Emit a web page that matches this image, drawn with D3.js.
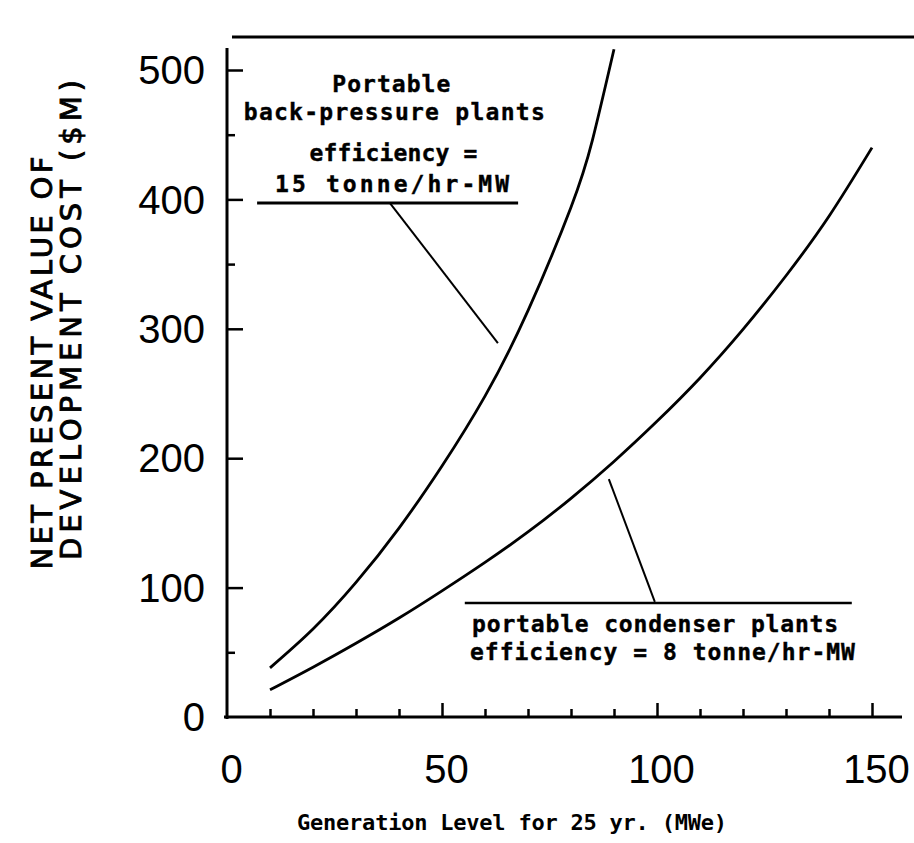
<!DOCTYPE html>
<html><head><meta charset="utf-8">
<script src="https://cdn.jsdelivr.net/npm/d3@7"></script>
<style>body{margin:0;background:#fff}</style>
</head><body><svg id="c" width="914" height="843"></svg>
<script>
// ---- data ----
const backLevel = [10,20,30,40,50,60,70,80,85,90];
const backPressureCost = [38,68,104,146,194,248,314,394,446,516];
const condLevel = [10,20,30,40,50,60,70,80,90,100,110,120,130,140,150];
const condenserCost = [21,38.5,57,76.5,97.5,119.5,143,169,197.5,228.5,262,299.5,341,387,440];
const xMajorTicks = [0,50,100,150];
const xMinorTicks = [10,20,30,40,60,70,80,90,110,120,130,140];
const yMajorTicks = [0,100,200,300,400,500];
const yMinorTicks = [50,350,450];
const backLabels = ["Portable","back-pressure plants","efficiency =","15 tonne/hr-MW"];
const condLabels = ["portable condenser plants","efficiency = 8 tonne/hr-MW"];
const xTitle = "Generation Level for 25 yr. (MWe)";
const yTitle = ["NET PRESENT VALUE OF","DEVELOPMENT COST ($M)"];

const svg = d3.select("#c");
const x = d3.scaleLinear().domain([0,150]).range([227,872]);
const y = d3.scaleLinear().domain([0,500]).range([717,70]);
const ink = "#000";

// top rule
svg.append("line").attr("x1",232).attr("x2",914).attr("y1",37).attr("y2",37)
  .attr("stroke",ink).attr("stroke-width",3);

// axis lines
svg.append("line").attr("x1",x(0)).attr("x2",x(0)).attr("y1",48).attr("y2",y(0)+2)
  .attr("stroke",ink).attr("stroke-width",3);
svg.append("line").attr("x1",x(0)-3).attr("x2",902).attr("y1",y(0)).attr("y2",y(0))
  .attr("stroke",ink).attr("stroke-width",3);

function styleAxis(g){
  g.select(".domain").remove();
  g.selectAll(".tick line").attr("stroke",ink).attr("stroke-width",2.5);
  g.selectAll(".tick text").attr("fill",ink)
    .attr("font-family","'Liberation Sans', Arial, sans-serif").attr("font-size",40);
}
// x axis
svg.append("g").attr("transform",`translate(0,${y(0)})`)
  .call(d3.axisBottom(x).tickValues(xMinorTicks).tickSize(-8).tickFormat(""))
  .call(styleAxis);
const gx = svg.append("g").attr("transform",`translate(0,${y(0)})`)
  .call(d3.axisBottom(x).tickValues(xMajorTicks).tickSize(-14).tickPadding(0))
  .call(styleAxis);
gx.selectAll(".tick text").attr("y",66).attr("dy",0).attr("dx",4);
gx.selectAll(".tick").filter(d=>d===0).select("line").remove();

// y axis
svg.append("g").attr("transform",`translate(${x(0)},0)`)
  .call(d3.axisLeft(y).tickValues(yMinorTicks).tickSize(-8).tickFormat(""))
  .call(styleAxis);
const gy = svg.append("g").attr("transform",`translate(${x(0)},0)`)
  .call(d3.axisLeft(y).tickValues(yMajorTicks).tickSize(-16).tickPadding(22))
  .call(styleAxis);
gy.selectAll(".tick").filter(d=>d===0).select("line").remove();
gy.selectAll(".tick text").attr("dy","0.34em");

// curves
const line = d3.line().x(d=>x(d[0])).y(d=>y(d[1])).curve(d3.curveNatural);
svg.append("path").datum(d3.zip(backLevel, backPressureCost)).attr("d",line)
  .attr("fill","none").attr("stroke",ink).attr("stroke-width",2.8);
svg.append("path").datum(d3.zip(condLevel, condenserCost)).attr("d",line)
  .attr("fill","none").attr("stroke",ink).attr("stroke-width",2.8);

// annotations (anchored in data units)
const plotFont = "'DejaVu Sans Mono', 'Liberation Mono', monospace";
const backAnchor = [ {cx:38.2, by:483,   w:118},
                     {cx:38.9, by:461.4, w:301},
                     {cx:38.7, by:429.7, w:168},
                     {cx:38.4, by:405.7, w:234} ];
backLabels.forEach((t,i)=>{
  const a = backAnchor[i];
  svg.append("text").attr("x",x(a.cx)).attr("y",y(a.by)).attr("text-anchor","middle")
    .attr("font-family",plotFont).attr("font-weight","bold").attr("font-size",23)
    .attr("stroke",ink).attr("stroke-width",0.4)
    .attr("textLength",a.w).attr("lengthAdjust","spacing").attr("fill",ink).text(t);
});
const condAnchor = [ {lx:57.0, by:65.7, w:366}, {lx:56.5, by:44.0, w:385} ];
condLabels.forEach((t,i)=>{
  const a = condAnchor[i];
  svg.append("text").attr("x",x(a.lx)).attr("y",y(a.by))
    .attr("font-family",plotFont).attr("font-weight","bold").attr("font-size",23)
    .attr("stroke",ink).attr("stroke-width",0.4)
    .attr("textLength",a.w).attr("lengthAdjust","spacing").attr("fill",ink).text(t);
});
function seg(x1,y1,x2,y2,w){
  svg.append("line").attr("x1",x(x1)).attr("y1",y(y1)).attr("x2",x(x2)).attr("y2",y(y2))
    .attr("stroke",ink).attr("stroke-width",w);
}
seg(7.0,397.2,67.7,397.2,3);
seg(37.9,397.2,63.0,289,2);
seg(55.3,88.1,145.3,88.1,2.5);
seg(88.8,183.9,99.5,88.9,2);

// axis titles
svg.append("text").attr("x",512).attr("y",830).attr("text-anchor","middle")
  .attr("font-family",plotFont).attr("font-weight","bold").attr("font-size",22)
  .attr("textLength",430).attr("lengthAdjust","spacing").attr("fill",ink).text(xTitle);
const yt = [ {bx:52, cy:363, w:413}, {bx:81, cy:320, w:480} ];
yTitle.forEach((t,i)=>{
  svg.append("text").attr("transform",`translate(${yt[i].bx},${yt[i].cy}) rotate(-90)`)
    .attr("text-anchor","middle").attr("font-family","'DejaVu Sans', sans-serif")
    .attr("font-size",29).attr("stroke",ink).attr("stroke-width",0.9)
    .attr("textLength",yt[i].w).attr("lengthAdjust","spacing")
    .attr("fill",ink).text(t);
});
</script></body></html>
